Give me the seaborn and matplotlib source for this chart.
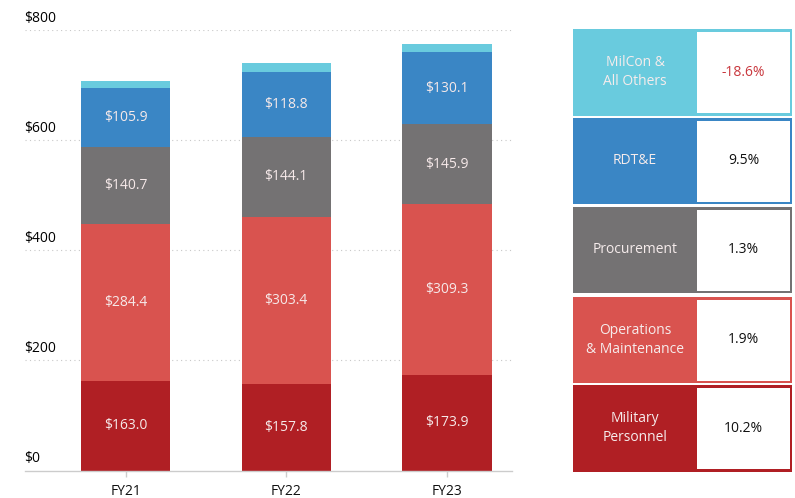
import matplotlib
matplotlib.use("Agg")
import matplotlib.pyplot as plt
import matplotlib.transforms as mtransforms
from matplotlib.patches import Rectangle
import numpy as np
import pandas as pd
import seaborn as sns

# ---- data ----
years = ["FY21", "FY22", "FY23"]
military_personnel = [163.0, 157.8, 173.9]
operations_maintenance = [284.4, 303.4, 309.3]
procurement = [140.7, 144.1, 145.9]
rdte = [105.9, 118.8, 130.1]
milcon_others = [13.5, 15.5, 14.5]

series_names = ["Military Personnel", "Operations & Maintenance", "Procurement",
                "RDT&E", "MilCon & All Others"]
legend_labels = ["Military\nPersonnel", "Operations\n& Maintenance", "Procurement",
                 "RDT&E", "MilCon &\nAll Others"]
pct_change = ["10.2%", "1.9%", "1.3%", "9.5%", "-18.6%"]
yticks = [0, 200, 400, 600, 800]
ytick_labels = ["$0", "$200", "$400", "$600", "$800"]

colors = ["#b01f24", "#d9534f", "#747273", "#3a86c5", "#69cbde"]

series_values = [military_personnel, operations_maintenance, procurement, rdte, milcon_others]

sns.set_theme(style="white")
plt.rcParams["font.family"] = ["Open Sans", "DejaVu Sans"]

W, H = 795, 498
fig = plt.figure(figsize=(W / 100, H / 100), dpi=100)

ax_left, ax_right = 24.5, 512
ax_top, ax_bot = 30, 470.5
ax = fig.add_axes([ax_left / W, (H - ax_bot) / H, (ax_right - ax_left) / W, (ax_bot - ax_top) / H])

# cumulative tops for stacking
cum = np.cumsum(np.array(series_values), axis=0)
df = pd.DataFrame({"year": years})
for i in range(len(series_names)):
    df[series_names[i]] = cum[i]

# draw from top cumulative down so lower segments overlay
for i in reversed(range(len(series_names))):
    sns.barplot(data=df, x="year", y=series_names[i], color=colors[i], width=0.555,
                saturation=1, ax=ax, linewidth=0, edgecolor=colors[i], zorder=2)

# segment labels (skip thin top segment)
for i in range(4):
    for j, yr in enumerate(years):
        bottom = cum[i - 1][j] if i > 0 else 0
        mid = bottom + series_values[i][j] / 2
        ax.text(j, mid, f"${series_values[i][j]:.1f}", ha="center", va="center",
                color="#f6e9e9", fontsize=10, zorder=5)

ax.set_ylim(0, 800)
ax.set_xlim(-0.629, 2.405)
ax.set_ylabel("")
ax.set_xlabel("")
ax.set_yticks([])

# dotted gridlines
for v in yticks[1:]:
    ax.axhline(v, color="#c8c8c8", linestyle=(0, (1, 3)), linewidth=0.8, zorder=0)

# y labels above gridlines
trans = mtransforms.blended_transform_factory(ax.transAxes, ax.transData)
for v, lab in zip(yticks, ytick_labels):
    ax.annotate(lab, xy=(0, v), xycoords=trans, xytext=(0, 6), textcoords="offset points",
                ha="left", va="baseline", fontsize=10, color="#000000")

for s in ["top", "right", "left"]:
    ax.spines[s].set_visible(False)
ax.spines["bottom"].set_color("#cccccc")
ax.spines["bottom"].set_linewidth(1)
ax.tick_params(axis="x", length=4, width=1, color="#cccccc", pad=6, labelsize=10,
               labelcolor="#111111", bottom=True)

# legend panel (figure pixel coordinates)
lax = fig.add_axes([0, 0, 1, 1])
lax.set_xlim(0, W)
lax.set_ylim(H, 0)
lax.axis("off")
lax.patch.set_alpha(0)

row_tops = [385, 296.5, 206.5, 117.5, 29]
row_h = 86.5
x0, x_split, x1 = 573, 697, 792
for i in range(len(series_names)):
    top = row_tops[i]
    lax.add_patch(Rectangle((x0, top), x1 - x0, row_h, facecolor=colors[i], edgecolor="none"))
    lax.add_patch(Rectangle((x_split, top + 3), x1 - 2.5 - x_split, row_h - 5.5,
                            facecolor="white", edgecolor="none"))
    lax.text((x0 + x_split) / 2, top + row_h / 2, legend_labels[i], ha="center", va="center",
             color="#f6ecec", fontsize=10, linespacing=1.35)
    pc = "#c9373d" if pct_change[i].startswith("-") else "#111111"
    lax.text((x_split + x1) / 2 - 1, top + row_h / 2, pct_change[i], ha="center", va="center",
             color=pc, fontsize=10)

fig.savefig("out.png", dpi=100)
